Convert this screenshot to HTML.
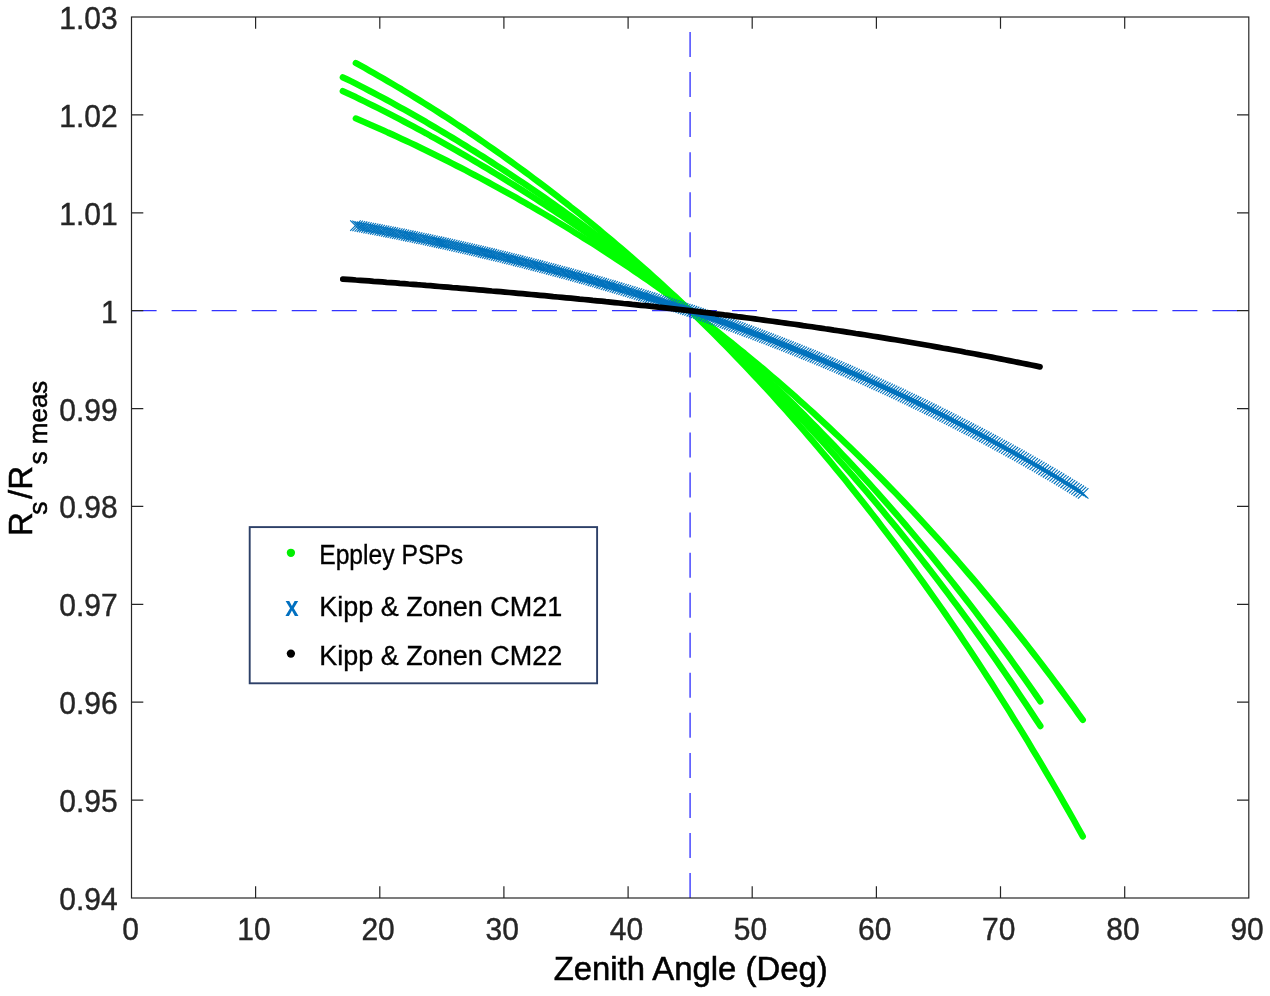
<!DOCTYPE html><html><head><meta charset="utf-8"><title>chart</title><style>html,body{margin:0;padding:0;background:#fff}svg{display:block;will-change:transform;opacity:0.999}text{font-family:"Liberation Sans",sans-serif}</style></head><body>
<svg width="1270" height="996" viewBox="0 0 1270 996">
<rect width="1270" height="996" fill="#fff"/>
<polyline points="355.8,63.1 360.4,65.6 365.0,68.1 369.5,70.7 374.1,73.3 378.7,75.9 383.3,78.5 387.8,81.2 392.4,83.9 397.0,86.6 401.6,89.3 406.1,92.1 410.7,94.9 415.3,97.7 419.8,100.5 424.4,103.4 429.0,106.2 433.6,109.1 438.1,112.0 442.7,115.0 447.3,117.9 451.8,120.9 456.4,124.0 461.0,127.0 465.6,130.0 470.1,133.1 474.7,136.2 479.3,139.4 483.9,142.5 488.4,145.7 493.0,148.9 497.6,152.1 502.1,155.3 506.7,158.6 511.3,161.9 515.9,165.2 520.4,168.5 525.0,171.9 529.6,175.3 534.1,178.7 538.7,182.1 543.3,185.6 547.9,189.1 552.4,192.6 557.0,196.1 561.6,199.7 566.2,203.2 570.7,206.9 575.3,210.5 579.9,214.1 584.4,217.8 589.0,221.5 593.6,225.3 598.2,229.0 602.7,232.8 607.3,236.6 611.9,240.5 616.4,244.3 621.0,248.2 625.6,252.2 630.2,256.1 634.7,260.1 639.3,264.1 643.9,268.1 648.5,272.2 653.0,276.3 657.6,280.4 662.2,284.6 666.7,288.8 671.3,293.0 675.9,297.2 680.5,301.5 685.0,305.8 689.6,310.1 694.2,314.6 698.7,319.0 703.3,323.5 707.9,328.0 712.5,332.5 717.0,337.1 721.6,341.7 726.2,346.4 730.8,351.1 735.3,355.8 739.9,360.5 744.5,365.3 749.0,370.1 753.6,375.0 758.2,379.9 762.8,384.8 767.3,389.7 771.9,394.7 776.5,399.8 781.0,404.8 785.6,409.9 790.2,415.1 794.8,420.3 799.3,425.5 803.9,430.8 808.5,436.1 813.1,441.4 817.6,446.8 822.2,452.2 826.8,457.6 831.3,463.1 835.9,468.7 840.5,474.2 845.1,479.8 849.6,485.5 854.2,491.2 858.8,496.9 863.4,502.7 867.9,508.5 872.5,514.4 877.1,520.3 881.6,526.3 886.2,532.3 890.8,538.3 895.4,544.4 899.9,550.5 904.5,556.7 909.1,562.9 913.6,569.2 918.2,575.5 922.8,581.9 927.4,588.3 931.9,594.7 936.5,601.2 941.1,607.8 945.7,614.4 950.2,621.0 954.8,627.7 959.4,634.4 963.9,641.2 968.5,648.1 973.1,655.0 977.7,661.9 982.2,668.9 986.8,675.9 991.4,683.0 995.9,690.2 1000.5,697.4 1005.1,704.6 1009.7,711.9 1014.2,719.3 1018.8,726.7 1023.4,734.2 1028.0,741.7 1032.5,749.3 1037.1,756.9 1041.7,764.6 1046.2,772.3 1050.8,780.1 1055.4,788.0 1060.0,795.9 1064.5,803.9 1069.1,811.9 1073.7,820.0 1078.2,828.2 1082.8,836.4" fill="none" stroke="#00ff00" stroke-width="6.3" stroke-linecap="round" stroke-linejoin="round"/>
<polyline points="342.8,77.3 347.2,79.4 351.6,81.5 356.0,83.8 360.3,86.0 364.7,88.3 369.1,90.6 373.5,92.9 377.9,95.2 382.3,97.6 386.7,99.9 391.1,102.3 395.4,104.7 399.8,107.2 404.2,109.6 408.6,112.1 413.0,114.6 417.4,117.1 421.8,119.6 426.2,122.1 430.5,124.7 434.9,127.3 439.3,129.9 443.7,132.5 448.1,135.1 452.5,137.8 456.9,140.4 461.2,143.1 465.6,145.8 470.0,148.6 474.4,151.3 478.8,154.1 483.2,156.8 487.6,159.6 492.0,162.5 496.3,165.3 500.7,168.2 505.1,171.0 509.5,173.9 513.9,176.8 518.3,179.8 522.7,182.7 527.1,185.7 531.4,188.6 535.8,191.7 540.2,194.7 544.6,197.7 549.0,200.8 553.4,203.9 557.8,207.0 562.2,210.1 566.5,213.2 570.9,216.4 575.3,219.5 579.7,222.7 584.1,226.0 588.5,229.2 592.9,232.5 597.3,235.8 601.6,239.1 606.0,242.4 610.4,245.7 614.8,249.1 619.2,252.5 623.6,255.9 628.0,259.3 632.4,262.8 636.7,266.3 641.1,269.8 645.5,273.3 649.9,276.9 654.3,280.5 658.7,284.1 663.1,287.7 667.4,291.3 671.8,295.0 676.2,298.7 680.6,302.5 685.0,306.2 689.4,310.0 693.8,313.9 698.2,317.9 702.5,321.8 706.9,325.8 711.3,329.9 715.7,333.9 720.1,338.0 724.5,342.1 728.9,346.3 733.3,350.4 737.6,354.6 742.0,358.9 746.4,363.1 750.8,367.4 755.2,371.7 759.6,376.1 764.0,380.5 768.4,384.9 772.7,389.3 777.1,393.8 781.5,398.3 785.9,402.8 790.3,407.4 794.7,411.9 799.1,416.6 803.5,421.2 807.8,425.9 812.2,430.6 816.6,435.4 821.0,440.1 825.4,445.0 829.8,449.8 834.2,454.7 838.5,459.6 842.9,464.5 847.3,469.5 851.7,474.5 856.1,479.6 860.5,484.7 864.9,489.8 869.3,494.9 873.6,500.1 878.0,505.3 882.4,510.6 886.8,515.9 891.2,521.2 895.6,526.6 900.0,532.0 904.4,537.4 908.7,542.9 913.1,548.4 917.5,554.0 921.9,559.6 926.3,565.2 930.7,570.9 935.1,576.6 939.5,582.3 943.8,588.1 948.2,593.9 952.6,599.8 957.0,605.7 961.4,611.7 965.8,617.6 970.2,623.7 974.6,629.8 978.9,635.9 983.3,642.0 987.7,648.2 992.1,654.5 996.5,660.8 1000.9,667.1 1005.3,673.5 1009.7,679.9 1014.0,686.3 1018.4,692.9 1022.8,699.4 1027.2,706.0 1031.6,712.7 1036.0,719.4 1040.4,726.1" fill="none" stroke="#00ff00" stroke-width="6.3" stroke-linecap="round" stroke-linejoin="round"/>
<polyline points="342.8,91.1 347.2,93.1 351.6,95.1 356.0,97.2 360.3,99.4 364.7,101.5 369.1,103.7 373.5,105.8 377.9,108.0 382.3,110.3 386.7,112.5 391.1,114.8 395.4,117.0 399.8,119.3 404.2,121.6 408.6,124.0 413.0,126.3 417.4,128.7 421.8,131.0 426.2,133.4 430.5,135.9 434.9,138.3 439.3,140.7 443.7,143.2 448.1,145.7 452.5,148.2 456.9,150.7 461.2,153.3 465.6,155.8 470.0,158.4 474.4,161.0 478.8,163.6 483.2,166.2 487.6,168.8 492.0,171.5 496.3,174.1 500.7,176.8 505.1,179.5 509.5,182.3 513.9,185.0 518.3,187.7 522.7,190.5 527.1,193.3 531.4,196.1 535.8,198.9 540.2,201.8 544.6,204.6 549.0,207.5 553.4,210.4 557.8,213.3 562.2,216.2 566.5,219.2 570.9,222.2 575.3,225.2 579.7,228.2 584.1,231.2 588.5,234.2 592.9,237.3 597.3,240.4 601.6,243.5 606.0,246.6 610.4,249.7 614.8,252.9 619.2,256.1 623.6,259.3 628.0,262.5 632.4,265.8 636.7,269.0 641.1,272.3 645.5,275.6 649.9,279.0 654.3,282.3 658.7,285.7 663.1,289.1 667.4,292.5 671.8,296.0 676.2,299.5 680.6,303.0 685.0,306.5 689.4,310.0 693.8,313.7 698.2,317.4 702.5,321.1 706.9,324.9 711.3,328.7 715.7,332.5 720.1,336.3 724.5,340.1 728.9,344.0 733.3,347.9 737.6,351.9 742.0,355.8 746.4,359.8 750.8,363.9 755.2,367.9 759.6,372.0 764.0,376.1 768.4,380.2 772.7,384.4 777.1,388.6 781.5,392.8 785.9,397.1 790.3,401.3 794.7,405.6 799.1,410.0 803.5,414.3 807.8,418.7 812.2,423.2 816.6,427.6 821.0,432.1 825.4,436.7 829.8,441.2 834.2,445.8 838.5,450.4 842.9,455.1 847.3,459.7 851.7,464.5 856.1,469.2 860.5,474.0 864.9,478.8 869.3,483.6 873.6,488.5 878.0,493.4 882.4,498.4 886.8,503.4 891.2,508.4 895.6,513.4 900.0,518.5 904.4,523.6 908.7,528.8 913.1,534.0 917.5,539.2 921.9,544.5 926.3,549.8 930.7,555.1 935.1,560.5 939.5,565.9 943.8,571.4 948.2,576.9 952.6,582.4 957.0,588.0 961.4,593.6 965.8,599.2 970.2,604.9 974.6,610.6 978.9,616.4 983.3,622.2 987.7,628.1 992.1,633.9 996.5,639.9 1000.9,645.8 1005.3,651.9 1009.7,657.9 1014.0,664.0 1018.4,670.1 1022.8,676.3 1027.2,682.5 1031.6,688.8 1036.0,695.1 1040.4,701.5" fill="none" stroke="#00ff00" stroke-width="6.3" stroke-linecap="round" stroke-linejoin="round"/>
<polyline points="355.8,118.4 360.4,120.4 365.0,122.3 369.5,124.3 374.1,126.3 378.7,128.4 383.3,130.4 387.8,132.5 392.4,134.5 397.0,136.6 401.6,138.8 406.1,140.9 410.7,143.0 415.3,145.2 419.8,147.4 424.4,149.6 429.0,151.8 433.6,154.1 438.1,156.3 442.7,158.6 447.3,160.9 451.8,163.2 456.4,165.6 461.0,167.9 465.6,170.3 470.1,172.7 474.7,175.1 479.3,177.5 483.9,180.0 488.4,182.4 493.0,184.9 497.6,187.4 502.1,189.9 506.7,192.5 511.3,195.0 515.9,197.6 520.4,200.2 525.0,202.8 529.6,205.4 534.1,208.1 538.7,210.7 543.3,213.4 547.9,216.1 552.4,218.8 557.0,221.6 561.6,224.4 566.2,227.1 570.7,229.9 575.3,232.8 579.9,235.6 584.4,238.5 589.0,241.3 593.6,244.2 598.2,247.2 602.7,250.1 607.3,253.1 611.9,256.1 616.4,259.1 621.0,262.1 625.6,265.2 630.2,268.2 634.7,271.3 639.3,274.4 643.9,277.6 648.5,280.7 653.0,283.9 657.6,287.1 662.2,290.4 666.7,293.6 671.3,296.9 675.9,300.2 680.5,303.5 685.0,306.9 689.6,310.3 694.2,313.7 698.7,317.2 703.3,320.7 707.9,324.2 712.5,327.7 717.0,331.3 721.6,334.9 726.2,338.6 730.8,342.2 735.3,345.9 739.9,349.6 744.5,353.3 749.0,357.1 753.6,360.9 758.2,364.7 762.8,368.5 767.3,372.4 771.9,376.3 776.5,380.2 781.0,384.2 785.6,388.2 790.2,392.2 794.8,396.2 799.3,400.3 803.9,404.4 808.5,408.5 813.1,412.7 817.6,416.9 822.2,421.1 826.8,425.4 831.3,429.6 835.9,434.0 840.5,438.3 845.1,442.7 849.6,447.1 854.2,451.5 858.8,456.0 863.4,460.5 867.9,465.0 872.5,469.6 877.1,474.2 881.6,478.8 886.2,483.5 890.8,488.2 895.4,492.9 899.9,497.7 904.5,502.5 909.1,507.4 913.6,512.2 918.2,517.2 922.8,522.1 927.4,527.1 931.9,532.1 936.5,537.2 941.1,542.2 945.7,547.4 950.2,552.5 954.8,557.7 959.4,563.0 963.9,568.3 968.5,573.6 973.1,578.9 977.7,584.3 982.2,589.8 986.8,595.3 991.4,600.8 995.9,606.3 1000.5,611.9 1005.1,617.6 1009.7,623.2 1014.2,629.0 1018.8,634.7 1023.4,640.5 1028.0,646.4 1032.5,652.2 1037.1,658.2 1041.7,664.2 1046.2,670.2 1050.8,676.2 1055.4,682.3 1060.0,688.5 1064.5,694.7 1069.1,700.9 1073.7,707.2 1078.2,713.6 1082.8,719.9" fill="none" stroke="#00ff00" stroke-width="6.3" stroke-linecap="round" stroke-linejoin="round"/>
<path d="M350.2 220.3l10.5 10.5m0 -10.5l-10.5 10.5M352.4 220.7l10.5 10.5m0 -10.5l-10.5 10.5M354.6 221.1l10.5 10.5m0 -10.5l-10.5 10.5M356.8 221.5l10.5 10.5m0 -10.5l-10.5 10.5M359.0 221.9l10.5 10.5m0 -10.5l-10.5 10.5M361.2 222.3l10.5 10.5m0 -10.5l-10.5 10.5M363.4 222.8l10.5 10.5m0 -10.5l-10.5 10.5M365.6 223.2l10.5 10.5m0 -10.5l-10.5 10.5M367.8 223.6l10.5 10.5m0 -10.5l-10.5 10.5M370.0 224.0l10.5 10.5m0 -10.5l-10.5 10.5M372.2 224.4l10.5 10.5m0 -10.5l-10.5 10.5M374.4 224.8l10.5 10.5m0 -10.5l-10.5 10.5M376.6 225.3l10.5 10.5m0 -10.5l-10.5 10.5M378.8 225.7l10.5 10.5m0 -10.5l-10.5 10.5M381.0 226.1l10.5 10.5m0 -10.5l-10.5 10.5M383.2 226.6l10.5 10.5m0 -10.5l-10.5 10.5M385.4 227.0l10.5 10.5m0 -10.5l-10.5 10.5M387.6 227.4l10.5 10.5m0 -10.5l-10.5 10.5M389.8 227.9l10.5 10.5m0 -10.5l-10.5 10.5M392.0 228.3l10.5 10.5m0 -10.5l-10.5 10.5M394.2 228.7l10.5 10.5m0 -10.5l-10.5 10.5M396.4 229.2l10.5 10.5m0 -10.5l-10.5 10.5M398.6 229.6l10.5 10.5m0 -10.5l-10.5 10.5M400.8 230.1l10.5 10.5m0 -10.5l-10.5 10.5M403.0 230.5l10.5 10.5m0 -10.5l-10.5 10.5M405.2 231.0l10.5 10.5m0 -10.5l-10.5 10.5M407.4 231.4l10.5 10.5m0 -10.5l-10.5 10.5M409.6 231.9l10.5 10.5m0 -10.5l-10.5 10.5M411.8 232.3l10.5 10.5m0 -10.5l-10.5 10.5M414.0 232.8l10.5 10.5m0 -10.5l-10.5 10.5M416.2 233.3l10.5 10.5m0 -10.5l-10.5 10.5M418.4 233.7l10.5 10.5m0 -10.5l-10.5 10.5M420.6 234.2l10.5 10.5m0 -10.5l-10.5 10.5M422.8 234.6l10.5 10.5m0 -10.5l-10.5 10.5M425.0 235.1l10.5 10.5m0 -10.5l-10.5 10.5M427.2 235.6l10.5 10.5m0 -10.5l-10.5 10.5M429.4 236.1l10.5 10.5m0 -10.5l-10.5 10.5M431.6 236.5l10.5 10.5m0 -10.5l-10.5 10.5M433.8 237.0l10.5 10.5m0 -10.5l-10.5 10.5M436.0 237.5l10.5 10.5m0 -10.5l-10.5 10.5M438.2 238.0l10.5 10.5m0 -10.5l-10.5 10.5M440.3 238.4l10.5 10.5m0 -10.5l-10.5 10.5M442.5 238.9l10.5 10.5m0 -10.5l-10.5 10.5M444.7 239.4l10.5 10.5m0 -10.5l-10.5 10.5M446.9 239.9l10.5 10.5m0 -10.5l-10.5 10.5M449.1 240.4l10.5 10.5m0 -10.5l-10.5 10.5M451.3 240.9l10.5 10.5m0 -10.5l-10.5 10.5M453.5 241.4l10.5 10.5m0 -10.5l-10.5 10.5M455.7 241.9l10.5 10.5m0 -10.5l-10.5 10.5M457.9 242.4l10.5 10.5m0 -10.5l-10.5 10.5M460.1 242.9l10.5 10.5m0 -10.5l-10.5 10.5M462.3 243.4l10.5 10.5m0 -10.5l-10.5 10.5M464.5 243.9l10.5 10.5m0 -10.5l-10.5 10.5M466.7 244.4l10.5 10.5m0 -10.5l-10.5 10.5M468.9 244.9l10.5 10.5m0 -10.5l-10.5 10.5M471.1 245.4l10.5 10.5m0 -10.5l-10.5 10.5M473.3 245.9l10.5 10.5m0 -10.5l-10.5 10.5M475.5 246.4l10.5 10.5m0 -10.5l-10.5 10.5M477.7 247.0l10.5 10.5m0 -10.5l-10.5 10.5M479.9 247.5l10.5 10.5m0 -10.5l-10.5 10.5M482.1 248.0l10.5 10.5m0 -10.5l-10.5 10.5M484.3 248.5l10.5 10.5m0 -10.5l-10.5 10.5M486.5 249.0l10.5 10.5m0 -10.5l-10.5 10.5M488.7 249.6l10.5 10.5m0 -10.5l-10.5 10.5M490.9 250.1l10.5 10.5m0 -10.5l-10.5 10.5M493.1 250.6l10.5 10.5m0 -10.5l-10.5 10.5M495.3 251.2l10.5 10.5m0 -10.5l-10.5 10.5M497.5 251.7l10.5 10.5m0 -10.5l-10.5 10.5M499.7 252.2l10.5 10.5m0 -10.5l-10.5 10.5M501.9 252.8l10.5 10.5m0 -10.5l-10.5 10.5M504.1 253.3l10.5 10.5m0 -10.5l-10.5 10.5M506.3 253.9l10.5 10.5m0 -10.5l-10.5 10.5M508.5 254.4l10.5 10.5m0 -10.5l-10.5 10.5M510.7 254.9l10.5 10.5m0 -10.5l-10.5 10.5M512.9 255.5l10.5 10.5m0 -10.5l-10.5 10.5M515.1 256.1l10.5 10.5m0 -10.5l-10.5 10.5M517.3 256.6l10.5 10.5m0 -10.5l-10.5 10.5M519.5 257.2l10.5 10.5m0 -10.5l-10.5 10.5M521.7 257.7l10.5 10.5m0 -10.5l-10.5 10.5M523.9 258.3l10.5 10.5m0 -10.5l-10.5 10.5M526.1 258.8l10.5 10.5m0 -10.5l-10.5 10.5M528.3 259.4l10.5 10.5m0 -10.5l-10.5 10.5M530.5 260.0l10.5 10.5m0 -10.5l-10.5 10.5M532.7 260.5l10.5 10.5m0 -10.5l-10.5 10.5M534.9 261.1l10.5 10.5m0 -10.5l-10.5 10.5M537.1 261.7l10.5 10.5m0 -10.5l-10.5 10.5M539.3 262.3l10.5 10.5m0 -10.5l-10.5 10.5M541.5 262.8l10.5 10.5m0 -10.5l-10.5 10.5M543.7 263.4l10.5 10.5m0 -10.5l-10.5 10.5M545.9 264.0l10.5 10.5m0 -10.5l-10.5 10.5M548.1 264.6l10.5 10.5m0 -10.5l-10.5 10.5M550.3 265.2l10.5 10.5m0 -10.5l-10.5 10.5M552.5 265.8l10.5 10.5m0 -10.5l-10.5 10.5M554.7 266.4l10.5 10.5m0 -10.5l-10.5 10.5M556.9 266.9l10.5 10.5m0 -10.5l-10.5 10.5M559.1 267.5l10.5 10.5m0 -10.5l-10.5 10.5M561.3 268.1l10.5 10.5m0 -10.5l-10.5 10.5M563.5 268.7l10.5 10.5m0 -10.5l-10.5 10.5M565.7 269.3l10.5 10.5m0 -10.5l-10.5 10.5M567.9 269.9l10.5 10.5m0 -10.5l-10.5 10.5M570.1 270.5l10.5 10.5m0 -10.5l-10.5 10.5M572.3 271.2l10.5 10.5m0 -10.5l-10.5 10.5M574.5 271.8l10.5 10.5m0 -10.5l-10.5 10.5M576.7 272.4l10.5 10.5m0 -10.5l-10.5 10.5M578.9 273.0l10.5 10.5m0 -10.5l-10.5 10.5M581.1 273.6l10.5 10.5m0 -10.5l-10.5 10.5M583.3 274.2l10.5 10.5m0 -10.5l-10.5 10.5M585.5 274.8l10.5 10.5m0 -10.5l-10.5 10.5M587.7 275.5l10.5 10.5m0 -10.5l-10.5 10.5M589.9 276.1l10.5 10.5m0 -10.5l-10.5 10.5M592.1 276.7l10.5 10.5m0 -10.5l-10.5 10.5M594.3 277.4l10.5 10.5m0 -10.5l-10.5 10.5M596.4 278.0l10.5 10.5m0 -10.5l-10.5 10.5M598.6 278.6l10.5 10.5m0 -10.5l-10.5 10.5M600.8 279.3l10.5 10.5m0 -10.5l-10.5 10.5M603.0 279.9l10.5 10.5m0 -10.5l-10.5 10.5M605.2 280.5l10.5 10.5m0 -10.5l-10.5 10.5M607.4 281.2l10.5 10.5m0 -10.5l-10.5 10.5M609.6 281.8l10.5 10.5m0 -10.5l-10.5 10.5M611.8 282.5l10.5 10.5m0 -10.5l-10.5 10.5M614.0 283.1l10.5 10.5m0 -10.5l-10.5 10.5M616.2 283.8l10.5 10.5m0 -10.5l-10.5 10.5M618.4 284.4l10.5 10.5m0 -10.5l-10.5 10.5M620.6 285.1l10.5 10.5m0 -10.5l-10.5 10.5M622.8 285.8l10.5 10.5m0 -10.5l-10.5 10.5M625.0 286.4l10.5 10.5m0 -10.5l-10.5 10.5M627.2 287.1l10.5 10.5m0 -10.5l-10.5 10.5M629.4 287.8l10.5 10.5m0 -10.5l-10.5 10.5M631.6 288.4l10.5 10.5m0 -10.5l-10.5 10.5M633.8 289.1l10.5 10.5m0 -10.5l-10.5 10.5M636.0 289.8l10.5 10.5m0 -10.5l-10.5 10.5M638.2 290.5l10.5 10.5m0 -10.5l-10.5 10.5M640.4 291.1l10.5 10.5m0 -10.5l-10.5 10.5M642.6 291.8l10.5 10.5m0 -10.5l-10.5 10.5M644.8 292.5l10.5 10.5m0 -10.5l-10.5 10.5M647.0 293.2l10.5 10.5m0 -10.5l-10.5 10.5M649.2 293.9l10.5 10.5m0 -10.5l-10.5 10.5M651.4 294.6l10.5 10.5m0 -10.5l-10.5 10.5M653.6 295.3l10.5 10.5m0 -10.5l-10.5 10.5M655.8 296.0l10.5 10.5m0 -10.5l-10.5 10.5M658.0 296.7l10.5 10.5m0 -10.5l-10.5 10.5M660.2 297.4l10.5 10.5m0 -10.5l-10.5 10.5M662.4 298.1l10.5 10.5m0 -10.5l-10.5 10.5M664.6 298.8l10.5 10.5m0 -10.5l-10.5 10.5M666.8 299.5l10.5 10.5m0 -10.5l-10.5 10.5M669.0 300.2l10.5 10.5m0 -10.5l-10.5 10.5M671.2 300.9l10.5 10.5m0 -10.5l-10.5 10.5M673.4 301.6l10.5 10.5m0 -10.5l-10.5 10.5M675.6 302.3l10.5 10.5m0 -10.5l-10.5 10.5M677.8 303.1l10.5 10.5m0 -10.5l-10.5 10.5M680.0 303.8l10.5 10.5m0 -10.5l-10.5 10.5M682.2 304.5l10.5 10.5m0 -10.5l-10.5 10.5M684.4 305.2l10.5 10.5m0 -10.5l-10.5 10.5M686.6 306.0l10.5 10.5m0 -10.5l-10.5 10.5M688.8 306.7l10.5 10.5m0 -10.5l-10.5 10.5M691.0 307.5l10.5 10.5m0 -10.5l-10.5 10.5M693.2 308.2l10.5 10.5m0 -10.5l-10.5 10.5M695.4 309.0l10.5 10.5m0 -10.5l-10.5 10.5M697.6 309.8l10.5 10.5m0 -10.5l-10.5 10.5M699.8 310.5l10.5 10.5m0 -10.5l-10.5 10.5M702.0 311.3l10.5 10.5m0 -10.5l-10.5 10.5M704.2 312.0l10.5 10.5m0 -10.5l-10.5 10.5M706.4 312.8l10.5 10.5m0 -10.5l-10.5 10.5M708.6 313.6l10.5 10.5m0 -10.5l-10.5 10.5M710.8 314.4l10.5 10.5m0 -10.5l-10.5 10.5M713.0 315.1l10.5 10.5m0 -10.5l-10.5 10.5M715.2 315.9l10.5 10.5m0 -10.5l-10.5 10.5M717.4 316.7l10.5 10.5m0 -10.5l-10.5 10.5M719.6 317.5l10.5 10.5m0 -10.5l-10.5 10.5M721.8 318.3l10.5 10.5m0 -10.5l-10.5 10.5M724.0 319.0l10.5 10.5m0 -10.5l-10.5 10.5M726.2 319.8l10.5 10.5m0 -10.5l-10.5 10.5M728.4 320.6l10.5 10.5m0 -10.5l-10.5 10.5M730.6 321.4l10.5 10.5m0 -10.5l-10.5 10.5M732.8 322.2l10.5 10.5m0 -10.5l-10.5 10.5M735.0 323.0l10.5 10.5m0 -10.5l-10.5 10.5M737.2 323.8l10.5 10.5m0 -10.5l-10.5 10.5M739.4 324.7l10.5 10.5m0 -10.5l-10.5 10.5M741.6 325.5l10.5 10.5m0 -10.5l-10.5 10.5M743.8 326.3l10.5 10.5m0 -10.5l-10.5 10.5M746.0 327.1l10.5 10.5m0 -10.5l-10.5 10.5M748.2 327.9l10.5 10.5m0 -10.5l-10.5 10.5M750.4 328.7l10.5 10.5m0 -10.5l-10.5 10.5M752.5 329.6l10.5 10.5m0 -10.5l-10.5 10.5M754.7 330.4l10.5 10.5m0 -10.5l-10.5 10.5M756.9 331.2l10.5 10.5m0 -10.5l-10.5 10.5M759.1 332.1l10.5 10.5m0 -10.5l-10.5 10.5M761.3 332.9l10.5 10.5m0 -10.5l-10.5 10.5M763.5 333.7l10.5 10.5m0 -10.5l-10.5 10.5M765.7 334.6l10.5 10.5m0 -10.5l-10.5 10.5M767.9 335.4l10.5 10.5m0 -10.5l-10.5 10.5M770.1 336.3l10.5 10.5m0 -10.5l-10.5 10.5M772.3 337.1l10.5 10.5m0 -10.5l-10.5 10.5M774.5 338.0l10.5 10.5m0 -10.5l-10.5 10.5M776.7 338.8l10.5 10.5m0 -10.5l-10.5 10.5M778.9 339.7l10.5 10.5m0 -10.5l-10.5 10.5M781.1 340.6l10.5 10.5m0 -10.5l-10.5 10.5M783.3 341.4l10.5 10.5m0 -10.5l-10.5 10.5M785.5 342.3l10.5 10.5m0 -10.5l-10.5 10.5M787.7 343.2l10.5 10.5m0 -10.5l-10.5 10.5M789.9 344.0l10.5 10.5m0 -10.5l-10.5 10.5M792.1 344.9l10.5 10.5m0 -10.5l-10.5 10.5M794.3 345.8l10.5 10.5m0 -10.5l-10.5 10.5M796.5 346.7l10.5 10.5m0 -10.5l-10.5 10.5M798.7 347.6l10.5 10.5m0 -10.5l-10.5 10.5M800.9 348.5l10.5 10.5m0 -10.5l-10.5 10.5M803.1 349.3l10.5 10.5m0 -10.5l-10.5 10.5M805.3 350.2l10.5 10.5m0 -10.5l-10.5 10.5M807.5 351.1l10.5 10.5m0 -10.5l-10.5 10.5M809.7 352.0l10.5 10.5m0 -10.5l-10.5 10.5M811.9 352.9l10.5 10.5m0 -10.5l-10.5 10.5M814.1 353.9l10.5 10.5m0 -10.5l-10.5 10.5M816.3 354.8l10.5 10.5m0 -10.5l-10.5 10.5M818.5 355.7l10.5 10.5m0 -10.5l-10.5 10.5M820.7 356.6l10.5 10.5m0 -10.5l-10.5 10.5M822.9 357.5l10.5 10.5m0 -10.5l-10.5 10.5M825.1 358.4l10.5 10.5m0 -10.5l-10.5 10.5M827.3 359.4l10.5 10.5m0 -10.5l-10.5 10.5M829.5 360.3l10.5 10.5m0 -10.5l-10.5 10.5M831.7 361.2l10.5 10.5m0 -10.5l-10.5 10.5M833.9 362.2l10.5 10.5m0 -10.5l-10.5 10.5M836.1 363.1l10.5 10.5m0 -10.5l-10.5 10.5M838.3 364.0l10.5 10.5m0 -10.5l-10.5 10.5M840.5 365.0l10.5 10.5m0 -10.5l-10.5 10.5M842.7 365.9l10.5 10.5m0 -10.5l-10.5 10.5M844.9 366.9l10.5 10.5m0 -10.5l-10.5 10.5M847.1 367.9l10.5 10.5m0 -10.5l-10.5 10.5M849.3 368.8l10.5 10.5m0 -10.5l-10.5 10.5M851.5 369.8l10.5 10.5m0 -10.5l-10.5 10.5M853.7 370.7l10.5 10.5m0 -10.5l-10.5 10.5M855.9 371.7l10.5 10.5m0 -10.5l-10.5 10.5M858.1 372.7l10.5 10.5m0 -10.5l-10.5 10.5M860.3 373.7l10.5 10.5m0 -10.5l-10.5 10.5M862.5 374.6l10.5 10.5m0 -10.5l-10.5 10.5M864.7 375.6l10.5 10.5m0 -10.5l-10.5 10.5M866.9 376.6l10.5 10.5m0 -10.5l-10.5 10.5M869.1 377.6l10.5 10.5m0 -10.5l-10.5 10.5M871.3 378.6l10.5 10.5m0 -10.5l-10.5 10.5M873.5 379.6l10.5 10.5m0 -10.5l-10.5 10.5M875.7 380.6l10.5 10.5m0 -10.5l-10.5 10.5M877.9 381.6l10.5 10.5m0 -10.5l-10.5 10.5M880.1 382.6l10.5 10.5m0 -10.5l-10.5 10.5M882.3 383.6l10.5 10.5m0 -10.5l-10.5 10.5M884.5 384.6l10.5 10.5m0 -10.5l-10.5 10.5M886.7 385.6l10.5 10.5m0 -10.5l-10.5 10.5M888.9 386.6l10.5 10.5m0 -10.5l-10.5 10.5M891.1 387.7l10.5 10.5m0 -10.5l-10.5 10.5M893.3 388.7l10.5 10.5m0 -10.5l-10.5 10.5M895.5 389.7l10.5 10.5m0 -10.5l-10.5 10.5M897.7 390.8l10.5 10.5m0 -10.5l-10.5 10.5M899.9 391.8l10.5 10.5m0 -10.5l-10.5 10.5M902.1 392.8l10.5 10.5m0 -10.5l-10.5 10.5M904.3 393.9l10.5 10.5m0 -10.5l-10.5 10.5M906.5 394.9l10.5 10.5m0 -10.5l-10.5 10.5M908.6 396.0l10.5 10.5m0 -10.5l-10.5 10.5M910.8 397.0l10.5 10.5m0 -10.5l-10.5 10.5M913.0 398.1l10.5 10.5m0 -10.5l-10.5 10.5M915.2 399.2l10.5 10.5m0 -10.5l-10.5 10.5M917.4 400.2l10.5 10.5m0 -10.5l-10.5 10.5M919.6 401.3l10.5 10.5m0 -10.5l-10.5 10.5M921.8 402.4l10.5 10.5m0 -10.5l-10.5 10.5M924.0 403.5l10.5 10.5m0 -10.5l-10.5 10.5M926.2 404.5l10.5 10.5m0 -10.5l-10.5 10.5M928.4 405.6l10.5 10.5m0 -10.5l-10.5 10.5M930.6 406.7l10.5 10.5m0 -10.5l-10.5 10.5M932.8 407.8l10.5 10.5m0 -10.5l-10.5 10.5M935.0 408.9l10.5 10.5m0 -10.5l-10.5 10.5M937.2 410.0l10.5 10.5m0 -10.5l-10.5 10.5M939.4 411.1l10.5 10.5m0 -10.5l-10.5 10.5M941.6 412.2l10.5 10.5m0 -10.5l-10.5 10.5M943.8 413.3l10.5 10.5m0 -10.5l-10.5 10.5M946.0 414.4l10.5 10.5m0 -10.5l-10.5 10.5M948.2 415.6l10.5 10.5m0 -10.5l-10.5 10.5M950.4 416.7l10.5 10.5m0 -10.5l-10.5 10.5M952.6 417.8l10.5 10.5m0 -10.5l-10.5 10.5M954.8 418.9l10.5 10.5m0 -10.5l-10.5 10.5M957.0 420.1l10.5 10.5m0 -10.5l-10.5 10.5M959.2 421.2l10.5 10.5m0 -10.5l-10.5 10.5M961.4 422.3l10.5 10.5m0 -10.5l-10.5 10.5M963.6 423.5l10.5 10.5m0 -10.5l-10.5 10.5M965.8 424.6l10.5 10.5m0 -10.5l-10.5 10.5M968.0 425.7l10.5 10.5m0 -10.5l-10.5 10.5M970.2 426.9l10.5 10.5m0 -10.5l-10.5 10.5M972.4 428.0l10.5 10.5m0 -10.5l-10.5 10.5M974.6 429.2l10.5 10.5m0 -10.5l-10.5 10.5M976.8 430.4l10.5 10.5m0 -10.5l-10.5 10.5M979.0 431.5l10.5 10.5m0 -10.5l-10.5 10.5M981.2 432.7l10.5 10.5m0 -10.5l-10.5 10.5M983.4 433.9l10.5 10.5m0 -10.5l-10.5 10.5M985.6 435.0l10.5 10.5m0 -10.5l-10.5 10.5M987.8 436.2l10.5 10.5m0 -10.5l-10.5 10.5M990.0 437.4l10.5 10.5m0 -10.5l-10.5 10.5M992.2 438.6l10.5 10.5m0 -10.5l-10.5 10.5M994.4 439.8l10.5 10.5m0 -10.5l-10.5 10.5M996.6 441.0l10.5 10.5m0 -10.5l-10.5 10.5M998.8 442.2l10.5 10.5m0 -10.5l-10.5 10.5M1001.0 443.4l10.5 10.5m0 -10.5l-10.5 10.5M1003.2 444.6l10.5 10.5m0 -10.5l-10.5 10.5M1005.4 445.8l10.5 10.5m0 -10.5l-10.5 10.5M1007.6 447.0l10.5 10.5m0 -10.5l-10.5 10.5M1009.8 448.2l10.5 10.5m0 -10.5l-10.5 10.5M1012.0 449.4l10.5 10.5m0 -10.5l-10.5 10.5M1014.2 450.7l10.5 10.5m0 -10.5l-10.5 10.5M1016.4 451.9l10.5 10.5m0 -10.5l-10.5 10.5M1018.6 453.1l10.5 10.5m0 -10.5l-10.5 10.5M1020.8 454.4l10.5 10.5m0 -10.5l-10.5 10.5M1023.0 455.6l10.5 10.5m0 -10.5l-10.5 10.5M1025.2 456.9l10.5 10.5m0 -10.5l-10.5 10.5M1027.4 458.1l10.5 10.5m0 -10.5l-10.5 10.5M1029.6 459.4l10.5 10.5m0 -10.5l-10.5 10.5M1031.8 460.7l10.5 10.5m0 -10.5l-10.5 10.5M1034.0 461.9l10.5 10.5m0 -10.5l-10.5 10.5M1036.2 463.2l10.5 10.5m0 -10.5l-10.5 10.5M1038.4 464.5l10.5 10.5m0 -10.5l-10.5 10.5M1040.6 465.8l10.5 10.5m0 -10.5l-10.5 10.5M1042.8 467.0l10.5 10.5m0 -10.5l-10.5 10.5M1045.0 468.3l10.5 10.5m0 -10.5l-10.5 10.5M1047.2 469.6l10.5 10.5m0 -10.5l-10.5 10.5M1049.4 470.9l10.5 10.5m0 -10.5l-10.5 10.5M1051.6 472.2l10.5 10.5m0 -10.5l-10.5 10.5M1053.8 473.5l10.5 10.5m0 -10.5l-10.5 10.5M1056.0 474.8l10.5 10.5m0 -10.5l-10.5 10.5M1058.2 476.2l10.5 10.5m0 -10.5l-10.5 10.5M1060.4 477.5l10.5 10.5m0 -10.5l-10.5 10.5M1062.6 478.8l10.5 10.5m0 -10.5l-10.5 10.5M1064.7 480.1l10.5 10.5m0 -10.5l-10.5 10.5M1066.9 481.5l10.5 10.5m0 -10.5l-10.5 10.5M1069.1 482.8l10.5 10.5m0 -10.5l-10.5 10.5M1071.3 484.2l10.5 10.5m0 -10.5l-10.5 10.5M1073.5 485.5l10.5 10.5m0 -10.5l-10.5 10.5M1075.7 486.9l10.5 10.5m0 -10.5l-10.5 10.5M1077.9 488.2l10.5 10.5m0 -10.5l-10.5 10.5" fill="none" stroke="#0072bd" stroke-width="1.1"/>
<line x1="690.10" y1="32" x2="690.10" y2="898.0" stroke="#0000ff" stroke-opacity="0.72" stroke-width="1.5" stroke-dasharray="25 15.05"/>
<line x1="131.6" y1="310.72" x2="1237.8" y2="310.72" stroke="#0000ff" stroke-opacity="0.8" stroke-width="1.3" stroke-dasharray="25 15.03"/>
<polyline points="342.8,279.1 347.2,279.3 351.6,279.6 355.9,280.0 360.3,280.3 364.7,280.6 369.1,280.9 373.5,281.3 377.9,281.6 382.3,281.9 386.6,282.3 391.0,282.6 395.4,282.9 399.8,283.3 404.2,283.6 408.6,284.0 413.0,284.3 417.3,284.7 421.7,285.0 426.1,285.4 430.5,285.7 434.9,286.1 439.3,286.5 443.6,286.8 448.0,287.2 452.4,287.6 456.8,287.9 461.2,288.3 465.6,288.7 470.0,289.1 474.3,289.4 478.7,289.8 483.1,290.2 487.5,290.6 491.9,291.0 496.3,291.3 500.6,291.7 505.0,292.1 509.4,292.5 513.8,292.9 518.2,293.3 522.6,293.7 527.0,294.1 531.3,294.5 535.7,294.9 540.1,295.3 544.5,295.7 548.9,296.1 553.3,296.6 557.7,297.0 562.0,297.4 566.4,297.8 570.8,298.2 575.2,298.6 579.6,299.1 584.0,299.5 588.3,299.9 592.7,300.4 597.1,300.8 601.5,301.2 605.9,301.7 610.3,302.1 614.7,302.6 619.0,303.0 623.4,303.5 627.8,303.9 632.2,304.4 636.6,304.8 641.0,305.3 645.4,305.7 649.7,306.2 654.1,306.7 658.5,307.2 662.9,307.6 667.3,308.1 671.7,308.6 676.0,309.1 680.4,309.6 684.8,310.1 689.2,310.6 693.6,311.1 698.0,311.6 702.4,312.1 706.7,312.7 711.1,313.2 715.5,313.8 719.9,314.3 724.3,314.9 728.7,315.4 733.0,316.0 737.4,316.6 741.8,317.1 746.2,317.7 750.6,318.3 755.0,318.9 759.4,319.5 763.7,320.1 768.1,320.7 772.5,321.3 776.9,321.9 781.3,322.5 785.7,323.1 790.1,323.7 794.4,324.3 798.8,324.9 803.2,325.6 807.6,326.2 812.0,326.8 816.4,327.5 820.7,328.1 825.1,328.8 829.5,329.4 833.9,330.1 838.3,330.7 842.7,331.4 847.1,332.1 851.4,332.8 855.8,333.5 860.2,334.1 864.6,334.8 869.0,335.5 873.4,336.2 877.7,336.9 882.1,337.6 886.5,338.4 890.9,339.1 895.3,339.8 899.7,340.5 904.1,341.3 908.4,342.0 912.8,342.8 917.2,343.5 921.6,344.3 926.0,345.0 930.4,345.8 934.8,346.6 939.1,347.4 943.5,348.2 947.9,348.9 952.3,349.7 956.7,350.5 961.1,351.3 965.4,352.2 969.8,353.0 974.2,353.8 978.6,354.6 983.0,355.5 987.4,356.3 991.8,357.1 996.1,358.0 1000.5,358.9 1004.9,359.7 1009.3,360.6 1013.7,361.5 1018.1,362.4 1022.4,363.2 1026.8,364.1 1031.2,365.0 1035.6,365.9 1040.0,366.9" fill="none" stroke="#000" stroke-width="5.7" stroke-linecap="round" stroke-linejoin="round"/>
<g stroke="#262626" stroke-width="1.2" fill="none">
<rect x="131.5" y="17.0" width="1117.3" height="881.0"/>
<path d="M255.6 898.0v-11.8 M255.6 17.0v11.8"/>
<path d="M379.8 898.0v-11.8 M379.8 17.0v11.8"/>
<path d="M503.9 898.0v-11.8 M503.9 17.0v11.8"/>
<path d="M628.1 898.0v-11.8 M628.1 17.0v11.8"/>
<path d="M752.2 898.0v-11.8 M752.2 17.0v11.8"/>
<path d="M876.4 898.0v-11.8 M876.4 17.0v11.8"/>
<path d="M1000.5 898.0v-11.8 M1000.5 17.0v11.8"/>
<path d="M1124.7 898.0v-11.8 M1124.7 17.0v11.8"/>
<path d="M131.5 800.1h11.8 M1248.8 800.1h-11.8"/>
<path d="M131.5 702.2h11.8 M1248.8 702.2h-11.8"/>
<path d="M131.5 604.3h11.8 M1248.8 604.3h-11.8"/>
<path d="M131.5 506.4h11.8 M1248.8 506.4h-11.8"/>
<path d="M131.5 408.6h11.8 M1248.8 408.6h-11.8"/>
<path d="M131.5 310.7h11.8 M1248.8 310.7h-11.8"/>
<path d="M131.5 212.8h11.8 M1248.8 212.8h-11.8"/>
<path d="M131.5 114.9h11.8 M1248.8 114.9h-11.8"/>
</g>
<g fill="#262626" stroke="#262626" stroke-width="0.4" font-size="30px">
<text transform="translate(130.7,940.3) scale(1,1.02)" text-anchor="middle">0</text>
<text transform="translate(253.9,940.3) scale(1,1.02)" text-anchor="middle">10</text>
<text transform="translate(378.1,940.3) scale(1,1.02)" text-anchor="middle">20</text>
<text transform="translate(502.2,940.3) scale(1,1.02)" text-anchor="middle">30</text>
<text transform="translate(626.4,940.3) scale(1,1.02)" text-anchor="middle">40</text>
<text transform="translate(750.5,940.3) scale(1,1.02)" text-anchor="middle">50</text>
<text transform="translate(874.7,940.3) scale(1,1.02)" text-anchor="middle">60</text>
<text transform="translate(998.8,940.3) scale(1,1.02)" text-anchor="middle">70</text>
<text transform="translate(1123.0,940.3) scale(1,1.02)" text-anchor="middle">80</text>
<text transform="translate(1247.1,940.3) scale(1,1.02)" text-anchor="middle">90</text>
<text transform="translate(117.7,910.0) scale(1,1.02)" text-anchor="end">0.94</text>
<text transform="translate(117.7,812.1) scale(1,1.02)" text-anchor="end">0.95</text>
<text transform="translate(117.7,714.2) scale(1,1.02)" text-anchor="end">0.96</text>
<text transform="translate(117.7,616.3) scale(1,1.02)" text-anchor="end">0.97</text>
<text transform="translate(117.7,518.4) scale(1,1.02)" text-anchor="end">0.98</text>
<text transform="translate(117.7,420.6) scale(1,1.02)" text-anchor="end">0.99</text>
<text transform="translate(117.7,322.7) scale(1,1.02)" text-anchor="end">1</text>
<text transform="translate(117.7,224.8) scale(1,1.02)" text-anchor="end">1.01</text>
<text transform="translate(117.7,126.9) scale(1,1.02)" text-anchor="end">1.02</text>
<text transform="translate(117.7,29.0) scale(1,1.02)" text-anchor="end">1.03</text>
</g>
<text x="690.7" y="980.3" text-anchor="middle" font-size="33px" fill="#000" stroke="#000" stroke-width="0.55" textLength="274" lengthAdjust="spacingAndGlyphs">Zenith Angle (Deg)</text>
<g transform="translate(31.7,533.4) rotate(-90)" fill="#000" stroke="#000" stroke-width="0.55" font-size="33px"><text x="-2.5" y="0">R</text><text x="18.6" y="15.3" font-size="26.4px">s</text><text x="34.4" y="0">/</text><text x="43.7" y="0">R</text><text x="68.8" y="15.3" font-size="26.4px">s</text><text x="89.2" y="15.3" font-size="26px">meas</text></g>
<rect x="249.7" y="527.1" width="347.4" height="156.2" fill="#fff" stroke="#2d4068" stroke-width="1.9"/>
<circle cx="290.9" cy="552.8" r="4.15" fill="#00ee00"/>
<circle cx="290.9" cy="653.6" r="4.15" fill="#000"/>
<text x="285.2" y="615.8" font-size="27px" font-weight="bold" fill="#0070c0" textLength="13.4" lengthAdjust="spacingAndGlyphs">x</text>
<g font-size="27px" fill="#000" stroke="#000" stroke-width="0.35">
<text x="319.2" y="563.5" textLength="144" lengthAdjust="spacingAndGlyphs">Eppley PSPs</text>
<text x="319.2" y="615.8" textLength="243" lengthAdjust="spacingAndGlyphs">Kipp &amp; Zonen CM21</text>
<text x="319.2" y="665" textLength="243" lengthAdjust="spacingAndGlyphs">Kipp &amp; Zonen CM22</text>
</g>
</svg></body></html>
